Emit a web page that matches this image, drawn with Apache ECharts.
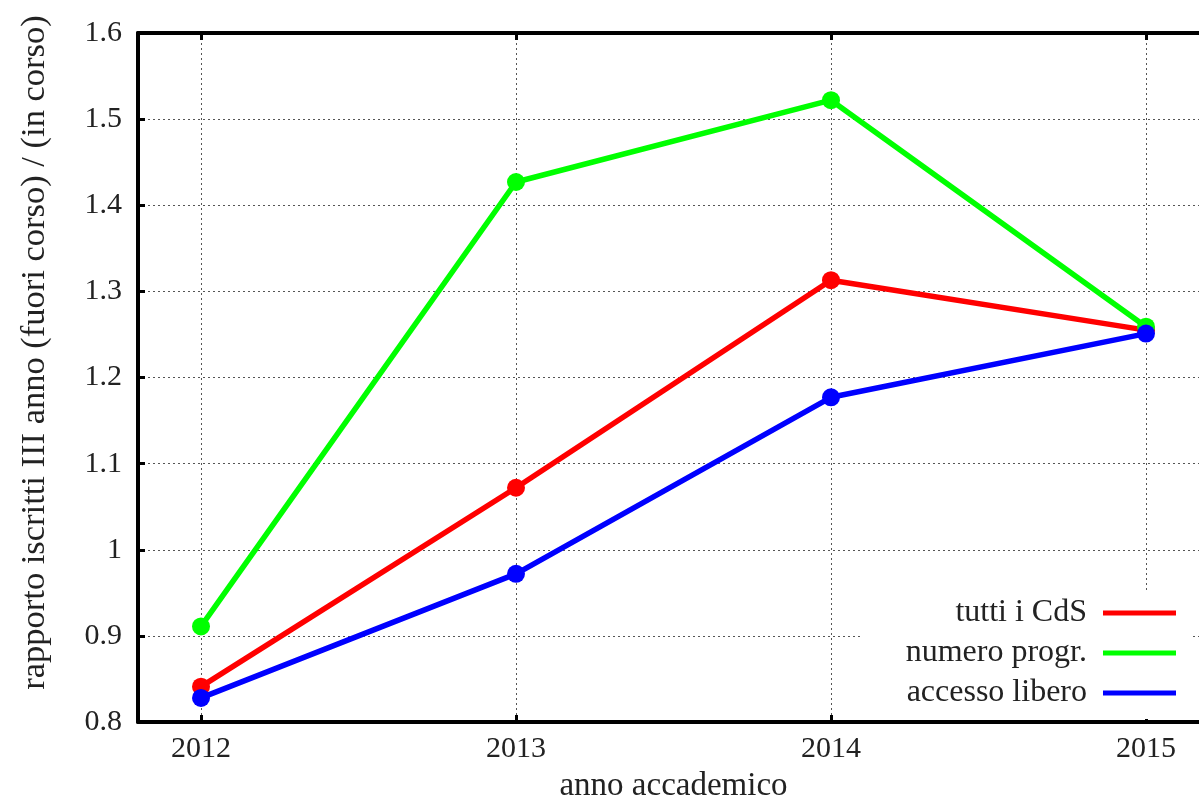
<!DOCTYPE html>
<html>
<head>
<meta charset="utf-8">
<script src="https://cdn.jsdelivr.net/npm/echarts@6/dist/echarts.min.js"></script>
<style>
  html, body { margin: 0; padding: 0; background: #fff; }
  #chart { width: 1199px; height: 798px; }
</style>
</head>
<body>
<div id="chart"></div>
<script>
var years = [2012, 2013, 2014, 2015];
var yTicks = [0.8, 0.9, 1, 1.1, 1.2, 1.3, 1.4, 1.5, 1.6];
var seriesNames = ["tutti i CdS", "numero progr.", "accesso libero"];
var tuttiCdS = [0.841, 1.072, 1.313, 1.255];
var numeroProgr = [0.911, 1.427, 1.522, 1.259];
var accessoLibero = [0.828, 0.972, 1.177, 1.251];

var chart = echarts.init(document.getElementById("chart"));
var font = "Liberation Serif";
var textColor = "#222";

function pairs(vals) {
  return years.map(function (y, i) {
    return [y, vals[i]];
  });
}

function lineSeries(name, vals, color) {
  return {
    name: name,
    type: "line",
    data: pairs(vals),
    symbol: "circle",
    symbolSize: 18,
    lineStyle: { width: 5.5, color: color },
    itemStyle: { color: color },
    emphasis: { disabled: true }
  };
}

var axisLine = { show: true, lineStyle: { color: "#000", width: 4 } };
var axisTick = { show: true, inside: true, length: 7, lineStyle: { color: "#000", width: 3 } };
var splitLine = { show: true, lineStyle: { color: "#555", width: 1, type: [2, 3] } };

var option = {
  animation: false,
  grid: { left: 138, right: -10, top: 33, bottom: 76, outerBoundsMode: "none", containLabel: false },
  xAxis: [
    {
      type: "value",
      min: 2011.8,
      max: 2015.2,
      name: "anno accademico",
      nameLocation: "middle",
      nameGap: 48,
      nameTextStyle: { fontFamily: font, fontSize: 33, color: textColor },
      axisLine: axisLine,
      axisTick: Object.assign({ customValues: years }, axisTick),
      splitLine: splitLine,
      axisLabel: {
        customValues: years,
        fontFamily: font,
        fontSize: 30,
        color: textColor,
        margin: 12,
        formatter: function (v) { return String(v); }
      }
    },
    {
      type: "value",
      position: "top",
      min: 2011.8,
      max: 2015.2,
      axisLine: axisLine,
      axisTick: Object.assign({ customValues: years }, axisTick),
      axisLabel: { show: false },
      splitLine: { show: false }
    }
  ],
  yAxis: {
    type: "value",
    min: yTicks[0],
    max: yTicks[yTicks.length - 1],
    interval: 0.1,
    name: "rapporto iscritti III anno (fuori corso) / (in corso)",
    nameLocation: "middle",
    nameGap: 86,
    nameTextStyle: { fontFamily: font, fontSize: 34.5, color: textColor, padding: [0, 0, 0, 50] },
    axisLine: axisLine,
    axisTick: axisTick,
    splitLine: splitLine,
    axisLabel: { fontFamily: font, fontSize: 30, color: textColor, margin: 16 }
  },
  legend: {
    data: seriesNames,
    orient: "vertical",
    align: "right",
    right: 9,
    bottom: 79,
    padding: [2, 14, 6, 43],
    backgroundColor: "#fff",
    icon: "rect",
    itemWidth: 73,
    itemHeight: 5,
    itemGap: 0,
    selectedMode: false,
    textStyle: { fontFamily: font, fontSize: 32, color: textColor, lineHeight: 40, padding: [0, 11, 0, 0] }
  },
  series: [
    lineSeries(seriesNames[0], tuttiCdS, "#ff0000"),
    lineSeries(seriesNames[1], numeroProgr, "#00ff00"),
    lineSeries(seriesNames[2], accessoLibero, "#0000ff")
  ]
};

chart.setOption(option);
window.addEventListener("resize", function () {
  chart.resize();
});
</script>
</body>
</html>
